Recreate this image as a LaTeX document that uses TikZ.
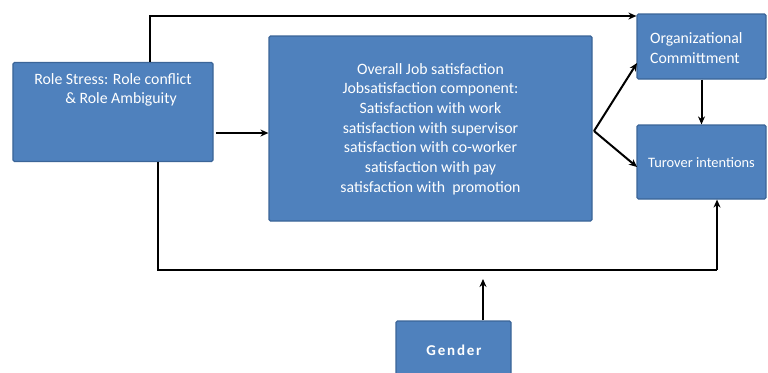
\documentclass[tikz,border=0pt]{standalone}
\usepackage{fontspec}
\setmainfont{Carlito}
\newfontfamily\gfont[LetterSpace=12]{Carlito}
\usetikzlibrary{arrows.meta}
\definecolor{boxfill}{HTML}{4F81BD}
\definecolor{boxline}{HTML}{3B6598}
\tikzset{
  box/.style={draw=boxline, line width=1.2bp, fill=boxfill, rounded corners=1.5bp, inner sep=0pt},
  txt/.style={text=white, font=\fontsize{15.8bp}{19.7bp}\selectfont, inner sep=0pt},
  thinline/.style={draw=black, line width=1.1bp},
  arr/.style={draw=black, line width=2bp, -{Stealth[length=8bp,width=7bp]}},
  tharr/.style={draw=black, line width=1.4bp, -{Stealth[length=8bp,width=7bp]}}
}
\begin{document}
\begin{tikzpicture}[x=1bp,y=-1bp]
\useasboundingbox[fill=white] (0,0) rectangle (768,372);
% boxes
\node[box, minimum width=200bp, minimum height=99bp] (rs) at (113,112) {};
\node[box, minimum width=323bp, minimum height=185bp] (main) at (430.5,128.5) {};
\node[box, minimum width=129bp, minimum height=65bp] (org) at (701.5,46.5) {};
\node[box, minimum width=129bp, minimum height=74bp] (tv) at (701.5,162) {};
\node[box, minimum width=115bp, minimum height=66bp] (gen) at (453.5,354) {};
% texts
\node[txt, align=center, anchor=north] (rst) at (113,73) {Role Stress: Role conflict\\\hspace*{16bp}\& Role Ambiguity};
\node[txt, align=center] (mt) at (430.5,129) {Overall Job satisfaction\\Jobsatisfaction component:\\Satisfaction with work\\satisfaction with supervisor\\satisfaction with co-worker\\satisfaction with pay\\satisfaction with\ \ promotion};
\node[txt, align=left, anchor=west] (ot) at (650,48) {Organizational\\Committment};
\node[txt, anchor=west, font=\fontsize{14.4bp}{18bp}\selectfont] (tt) at (648,163) {Turover intentions};
\node[txt, font=\gfont\bfseries\fontsize{15bp}{18bp}\selectfont] (gt) at (454,350) {Gender};
% helper coordinates
\coordinate (topc) at (150,16);
\coordinate (midc) at (216,133);
\coordinate (split) at (594,131);
\coordinate (orgin) at (637,63);
\coordinate (tvin) at (637,167);
\coordinate (botc) at (158,270);
\coordinate (botr) at (717,270);
\coordinate (gup) at (483,279);
% connectors
\draw[tharr] (rs.north -| topc) -- (topc) -- (topc -| org.west);
\draw[arr] (midc) -- (midc -| main.west);
\draw[arr] (split) -- (orgin);
\draw[arr] (split) -- (tvin);
\draw[arr] (org.south) -- (tv.north);
\draw[thinline] (rs.south -| botc) -- (botc) -- (botr);
\draw[arr] (botr) -- (botr |- tv.south);
\draw[arr] (gen.north -| gup) -- (gup);
\end{tikzpicture}
\end{document}
